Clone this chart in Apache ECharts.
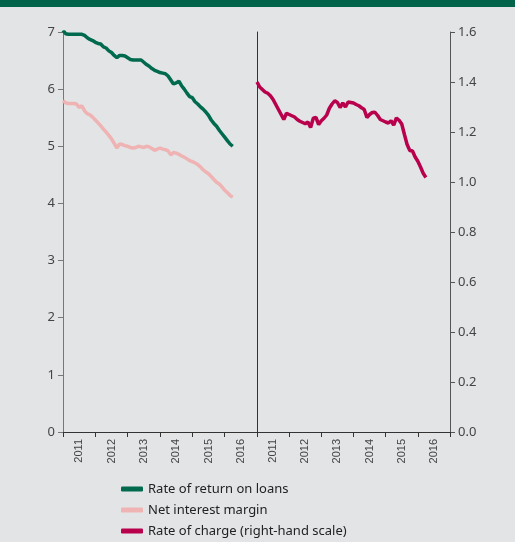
<!DOCTYPE html>
<html lang="en">
<head>
    <meta charset="UTF-8">
    <title>Loans chart</title>
    <script src="https://cdn.jsdelivr.net/npm/echarts@6/dist/echarts.min.js"></script>
    <style>
        * {padding: 0; margin: 0;}
        body {background: #e2e4e6;}
        #main {width: 515px; height: 542px;}
    </style>
</head>
<body>
    <div id="main"></div>
    <script>
        // monthly values, Jan 2011 onwards
        const startYear = 2011;
        const years = ['2011', '2012', '2013', '2014', '2015', '2016'];

        const returnOnLoans = [
            7.03, 6.97, 6.96, 6.96, 6.96, 6.96, 6.96, 6.96, 6.94, 6.90, 6.87, 6.85,
            6.82, 6.80, 6.79, 6.74, 6.72, 6.67, 6.64, 6.59, 6.55, 6.59, 6.59, 6.58,
            6.55, 6.52, 6.51, 6.51, 6.51, 6.51, 6.47, 6.43, 6.40, 6.36, 6.33, 6.31,
            6.29, 6.28, 6.27, 6.23, 6.16, 6.09, 6.11, 6.14, 6.06, 6.00, 5.93, 5.87,
            5.85, 5.78, 5.74, 5.69, 5.65, 5.60, 5.54, 5.46, 5.40, 5.35, 5.28, 5.22,
            5.16, 5.10, 5.04, 5.00
        ];
        const netInterestMargin = [
            5.80, 5.76, 5.75, 5.75, 5.75, 5.74, 5.68, 5.71, 5.62, 5.57, 5.55, 5.51,
            5.46, 5.41, 5.36, 5.30, 5.25, 5.19, 5.13, 5.05, 4.97, 5.04, 5.03, 5.01,
            5.00, 4.98, 4.97, 4.98, 5.00, 4.99, 4.98, 5.00, 4.99, 4.96, 4.93, 4.95,
            4.97, 4.95, 4.94, 4.92, 4.85, 4.89, 4.88, 4.86, 4.83, 4.81, 4.78, 4.75,
            4.73, 4.71, 4.68, 4.64, 4.59, 4.55, 4.52, 4.47, 4.42, 4.37, 4.34, 4.29,
            4.23, 4.19, 4.14, 4.11
        ];
        const rateOfCharge = [
            1.400, 1.380, 1.370, 1.360, 1.355, 1.345, 1.330, 1.310, 1.290, 1.270, 1.250, 1.275,
            1.270, 1.265, 1.260, 1.250, 1.243, 1.238, 1.233, 1.240, 1.218, 1.255, 1.258, 1.230,
            1.245, 1.255, 1.268, 1.295, 1.312, 1.325, 1.318, 1.298, 1.316, 1.300, 1.320, 1.318,
            1.316, 1.310, 1.305, 1.297, 1.290, 1.258, 1.270, 1.278, 1.279, 1.266, 1.250, 1.245,
            1.240, 1.236, 1.245, 1.228, 1.256, 1.247, 1.232, 1.190, 1.150, 1.126, 1.124, 1.100,
            1.083, 1.060, 1.035, 1.018
        ];

        const toPoints = arr => arr.map((v, i) => [startYear + i / 12, v]);

        const green = '#006a4e';
        const pink = '#efb3b3';
        const red = '#b8004c';
        const txt = '#444';

        const chart = echarts.init(document.getElementById('main'));

        const valueX = gridIndex => ({
            type: 'value', gridIndex: gridIndex, position: 'bottom',
            min: 2011, max: 2017, interval: 1,
            splitLine: {show: false},
            axisLine: {show: true, lineStyle: {color: '#333', width: 1}},
            axisTick: {show: true, length: 5, lineStyle: {color: '#333'}},
            axisLabel: {show: false}
        });
        const labelX = gridIndex => ({
            type: 'category', gridIndex: gridIndex, position: 'bottom',
            data: years, boundaryGap: true,
            axisLine: {show: false}, axisTick: {show: false}, splitLine: {show: false},
            axisLabel: {rotate: 90, margin: 7, color: txt, fontSize: 11, fontFamily: 'Liberation Sans'}
        });

        chart.setOption({
            backgroundColor: '#e2e4e6',
            animation: false,
            graphic: [{
                type: 'rect', shape: {x: 0, y: 0, width: 515, height: 7},
                style: {fill: '#00634a'}
            }],
            grid: [
                {left: 63, right: 258, top: 32, bottom: 110},
                {left: 257, right: 65, top: 32, bottom: 110}
            ],
            legend: {
                orient: 'vertical', left: 121, top: 482, height: 60, padding: 0,
                itemWidth: 22, itemHeight: 5, itemGap: 7,
                icon: 'roundRect',
                textStyle: {color: '#222', fontSize: 13, lineHeight: 14, fontFamily: 'Noto Sans'},
                data: ['Rate of return on loans', 'Net interest margin', 'Rate of charge (right-hand scale)']
            },
            xAxis: [valueX(0), labelX(0), valueX(1), labelX(1)],
            yAxis: [
                {
                    type: 'value', gridIndex: 0, position: 'left',
                    min: 0, max: 7, interval: 1,
                    splitLine: {show: false},
                    axisLine: {show: true, lineStyle: {color: '#777'}},
                    axisTick: {show: true, length: 5, lineStyle: {color: '#777'}},
                    axisLabel: {color: txt, fontSize: 13, margin: 8, fontFamily: 'Noto Sans'}
                },
                {
                    type: 'value', gridIndex: 1, position: 'left',
                    min: 0, max: 1.6, interval: 0.2,
                    splitLine: {show: false},
                    axisLine: {show: true, lineStyle: {color: '#333'}},
                    axisTick: {show: false}, axisLabel: {show: false}
                },
                {
                    type: 'value', gridIndex: 1, position: 'right',
                    min: 0, max: 1.6, interval: 0.2,
                    splitLine: {show: false},
                    axisLine: {show: true, lineStyle: {color: '#555'}},
                    axisTick: {show: true, length: 5, lineStyle: {color: '#555'}},
                    axisLabel: {
                        color: txt, fontSize: 13, margin: 8, fontFamily: 'Noto Sans',
                        formatter: v => v.toFixed(1)
                    }
                }
            ],
            series: [
                {
                    name: 'Rate of return on loans', type: 'line',
                    xAxisIndex: 0, yAxisIndex: 0, symbol: 'none',
                    itemStyle: {color: green},
                    lineStyle: {color: green, width: 3.5},
                    data: toPoints(returnOnLoans)
                },
                {
                    name: 'Net interest margin', type: 'line',
                    xAxisIndex: 0, yAxisIndex: 0, symbol: 'none',
                    itemStyle: {color: pink},
                    lineStyle: {color: pink, width: 3.5},
                    data: toPoints(netInterestMargin)
                },
                {
                    name: 'Rate of charge (right-hand scale)', type: 'line',
                    xAxisIndex: 2, yAxisIndex: 2, symbol: 'none',
                    itemStyle: {color: red},
                    lineStyle: {color: red, width: 3.5},
                    data: toPoints(rateOfCharge)
                }
            ]
        });
    </script>
</body>
</html>
